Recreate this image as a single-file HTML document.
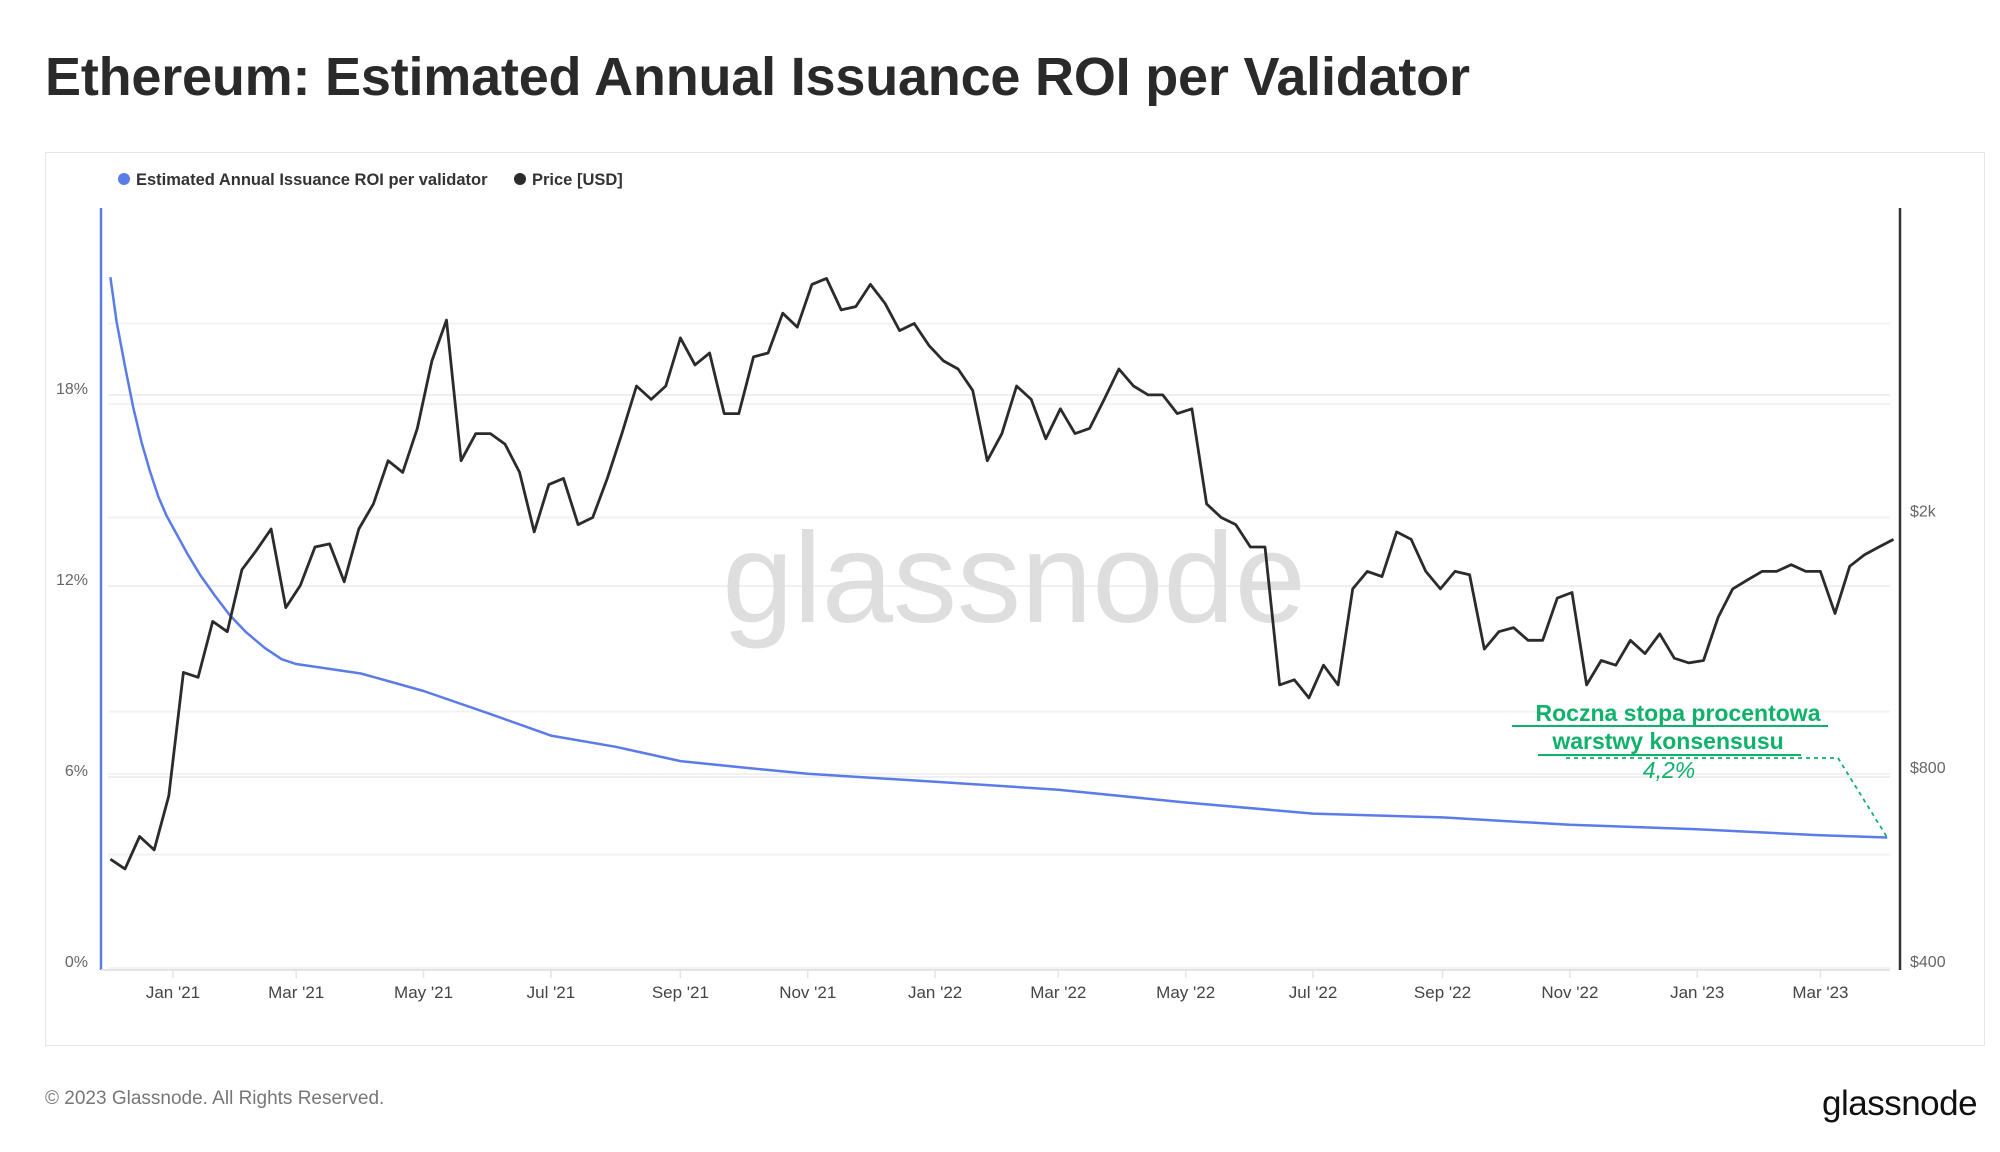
<!DOCTYPE html>
<html><head><meta charset="utf-8">
<style>
html,body{margin:0;padding:0;background:#fff;}
body{width:2000px;height:1152px;position:relative;overflow:hidden;font-family:"Liberation Sans",sans-serif;}
#title{position:absolute;left:45px;top:46px;font-size:54px;color:#2a2a2a;font-weight:bold;letter-spacing:-0.2px;}
#card{position:absolute;left:45px;top:152px;width:1940px;height:894px;border:1px solid #e6e6e6;box-sizing:border-box;}
#footer{position:absolute;left:45px;top:1088px;font-size:19px;color:#777;}
#logo{position:absolute;left:1822px;top:1084px;font-size:35px;color:#111;letter-spacing:-0.5px;}
svg{position:absolute;left:0;top:0;}
</style></head>
<body>
<div id="title">Ethereum: Estimated Annual Issuance ROI per Validator</div>
<div id="card"></div>
<div id="footer">© 2023 Glassnode. All Rights Reserved.</div>
<div id="logo">glassnode</div>
<svg id="chart" width="2000" height="1152"></svg>
<script>
// ---- data ----
const startDate = "2020-12-02"; // weekly price samples
const priceValues = [590,570,640,610,740,
1150,1130,1380,1330,1660,1780,1920,1450,1570,1800,1820,1590,1920,2100,2450,2350,2750,3500,4050,2450,2700,2700,2600,2350,1900,2250,2300,1950,2000,2300,2700,3200,3050,3200,3800,3450,3600,2900,2900,3550,3600,4150,3950,4600,4700,4200,4250,4600,4300,3900,4000,3700,
3500,3400,3150,2450,2700,3200,3050,2650,2950,2700,2750,3050,3400,3200,3100,3100,2900,2950,2100,2000,1950,1800,1800,1100,1120,1050,1180,1100,1550,1650,1620,1900,1850,1650,1550,1650,1630,1250,1330,1350,1290,1290,1500,1530,1100,1200,1180,1290,1230,1320,1210,1190,
1200,1400,1550,1600,1650,1650,1690,1650,1650,1420,1680,1750,1800,1850];
const roiDates = ["2020-12-02","2020-12-05","2020-12-09","2020-12-13","2020-12-17","2020-12-21","2020-12-25","2020-12-29","2021-01-03","2021-01-08","2021-01-14","2021-01-21","2021-01-28","2021-02-05","2021-02-14","2021-02-22","2021-03-01","2021-04-01","2021-05-01","2021-06-01","2021-07-01","2021-08-01","2021-09-01","2021-10-01","2021-11-01","2022-01-01","2022-03-01","2022-05-01","2022-07-01","2022-09-01","2022-11-01","2023-01-01","2023-03-01","2023-04-02"];
const roiValues = [21.7,20.3,18.9,17.6,16.5,15.6,14.8,14.2,13.6,13.0,12.35,11.7,11.1,10.55,10.05,9.7,9.55,9.25,8.7,8.0,7.3,6.95,6.5,6.3,6.1,5.85,5.6,5.2,4.85,4.73,4.5,4.36,4.17,4.1];
const xTickDates = ["2021-01-01","2021-03-01","2021-05-01","2021-07-01","2021-09-01","2021-11-01","2022-01-01","2022-03-01","2022-05-01","2022-07-01","2022-09-01","2022-11-01","2023-01-01","2023-03-01"];
const xTickLabels = ["Jan '21","Mar '21","May '21","Jul '21","Sep '21","Nov '21","Jan '22","Mar '22","May '22","Jul '22","Sep '22","Nov '22","Jan '23","Mar '23"];
const pctTicks = [0,6,12,18];
const pctTickLabels = ["0%","6%","12%","18%"];
const priceTicks = [400,800,2000];
const priceTickLabels = ["$400","$800","$2k"];
const priceGrid = [600,1000,3000,4000];

// ---- axes ----
const DAY = 86400000;
const t0 = Date.parse("2021-01-01");
function xScale(d){ return 173 + (Date.parse(d)-t0)/DAY*2.088; }
function xScaleMs(ms){ return 173 + (ms-t0)/DAY*2.088; }
function yPct(v){ return 968 - v/6*191; }
function yPrice(p){ return 968 - Math.log2(p/400)*194; }

const svg = document.getElementById('chart');
const NS = "http://www.w3.org/2000/svg";
function mk(tag, attrs, parent){ const e=document.createElementNS(NS,tag); for(const k in attrs) e.setAttribute(k,attrs[k]); (parent||svg).appendChild(e); return e; }

// gridlines
pctTicks.forEach(v=>{ const l=mk('line',{x1:108,x2:1890,y1:yPct(v),y2:yPct(v),stroke:'#efefef','stroke-width':2});

 });
priceTicks.concat(priceGrid).forEach(v=>{ const l=mk('line',{x1:108,x2:1890,y1:yPrice(v),y2:yPrice(v),stroke:'#f2f2f2','stroke-width':2});

 });

// watermark
const wm = mk('text',{x:1014,y:622,'text-anchor':'middle','font-size':128,fill:'#dedede','font-family':'Liberation Sans, sans-serif'});
wm.textContent='glassnode';



// axes lines
const la = mk('line',{x1:101,x2:101,y1:208,y2:970,stroke:'#5b7be8','stroke-width':2.5});


const ra = mk('line',{x1:1900,x2:1900,y1:208,y2:970,stroke:'#333','stroke-width':2.5});


const xa = mk('line',{x1:101,x2:1890,y1:970,y2:970,stroke:'#e4e4e4','stroke-width':2});



// y tick labels
pctTicks.forEach((v,i)=>{ const t=mk('text',{x:88,y:yPct(v)-1,'text-anchor':'end','font-size':16,fill:'#666'}); t.textContent=pctTickLabels[i];

 });
priceTicks.forEach((v,i)=>{ const t=mk('text',{x:1910,y:yPrice(v)-1,'font-size':16,fill:'#666'}); t.textContent=priceTickLabels[i];

 });

// x ticks
xTickDates.forEach((d,i)=>{ const x=xScale(d);
const tk=mk('line',{x1:x,x2:x,y1:970,y2:978,stroke:'#e4e4e4','stroke-width':1.5});


const t=mk('text',{x:x,y:998,'text-anchor':'middle','font-size':17,fill:'#444'}); t.textContent=xTickLabels[i];

 });

// ROI line
const roiPts = roiDates.map((d,i)=>xScale(d).toFixed(1)+','+yPct(roiValues[i]).toFixed(1));
const roiLine = mk('polyline',{points:roiPts.join(' '),fill:'none',stroke:'#5b7be8','stroke-width':2.5,'stroke-linejoin':'round'});



// price line
const s0 = Date.parse(startDate);
const pPts = priceValues.map((v,i)=>xScaleMs(s0+i*7*DAY).toFixed(1)+','+yPrice(v).toFixed(1));
const priceLine = mk('polyline',{points:pPts.join(' '),fill:'none',stroke:'#2b2b2b','stroke-width':2.8,'stroke-linejoin':'round'});



// legend
const lg = mk('g',{});


const d1 = mk('circle',{cx:124,cy:179,r:6,fill:'#5b7be8'},lg);


const l1 = mk('text',{x:136,y:185,'font-size':16.5,'font-weight':'bold',fill:'#333'},lg); l1.textContent='Estimated Annual Issuance ROI per validator';


const d2 = mk('circle',{cx:520,cy:179,r:6,fill:'#2b2b2b'},lg);


const l2 = mk('text',{x:532,y:185,'font-size':16.5,'font-weight':'bold',fill:'#333'},lg); l2.textContent='Price [USD]';



// annotation
const g = mk('g',{});


const a1 = mk('text',{x:1678,y:721,'text-anchor':'middle','font-size':23,'font-weight':'bold',fill:'#10b16a'},g); a1.textContent='Roczna stopa procentowa';


mk('line',{x1:1512,x2:1828,y1:726,y2:726,stroke:'#10b16a','stroke-width':2},g);
const a2 = mk('text',{x:1668,y:749,'text-anchor':'middle','font-size':23,'font-weight':'bold',fill:'#10b16a'},g); a2.textContent='warstwy konsensusu';


mk('line',{x1:1538,x2:1801,y1:755,y2:755,stroke:'#10b16a','stroke-width':2},g);
const lastX = xScale(roiDates[roiDates.length-1]), lastY = yPct(roiValues[roiValues.length-1]);
mk('polyline',{points:'1566,758 1838,758 '+lastX.toFixed(1)+','+lastY.toFixed(1),fill:'none',stroke:'#10b16a','stroke-width':1.8,'stroke-dasharray':'4,4'},g);
const a3 = mk('text',{x:1669,y:778,'text-anchor':'middle','font-size':23,'font-style':'italic',fill:'#10b16a'},g); a3.textContent='4,2%';


</script>
</body></html>
